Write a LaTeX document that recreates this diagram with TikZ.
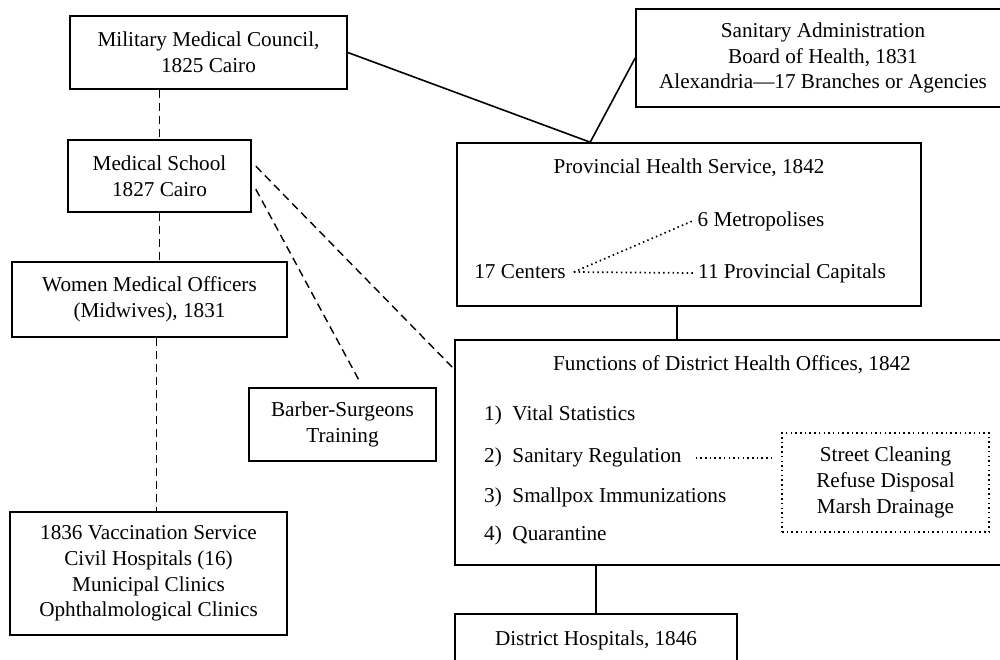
\documentclass[tikz,border=0pt]{standalone}
\usepackage{fontspec}
\setmainfont{Liberation Serif}
\usetikzlibrary{calc}
\begin{document}
\begin{tikzpicture}[x=1pt,y=-1pt,
  box/.style={draw=black, line width=1.6pt, inner sep=0pt, align=center,
    font=\fontsize{21.2}{25.8}\selectfont},
  txt/.style={inner sep=0pt, font=\fontsize{21.2}{25.8}\selectfont},
  dbox/.style={draw=black, line width=1.7pt, dash pattern=on 1.5pt off 3.2pt, inner sep=0pt, align=center,
    font=\fontsize{21.2}{25.8}\selectfont},
  dashline/.style={line width=1.4pt, dash pattern=on 8pt off 5pt},
  dotline/.style={line width=1.7pt, dash pattern=on 1.5pt off 3.2pt},
  solidline/.style={line width=1.6pt}]
\useasboundingbox (0,0) rectangle (1000,659);
\fill[white] (0,0) rectangle (1000,659);
\clip (0,0) rectangle (1000,659);
% left column
\node[box, minimum width=277pt, minimum height=73pt] (mmc) at (208.5,52.5) {Military Medical Council,\\1825 Cairo};
\node[box, minimum width=183pt, minimum height=72pt] (ms) at (159.5,176) {Medical School\\1827 Cairo};
\node[box, minimum width=275pt, minimum height=75pt] (wmo) at (149.5,299.5) {Women Medical Officers\\(Midwives), 1831};
\node[box, minimum width=277pt, minimum height=123pt] (vac) at (148.5,573.5) {1836 Vaccination Service\\Civil Hospitals (16)\\Municipal Clinics\\Ophthalmological Clinics};
\node[box, minimum width=187pt, minimum height=73pt] (barber) at (342.5,424.5) {Barber-Surgeons\\Training};
% right column
\node[box, minimum width=374pt, minimum height=98pt] (san) at (823,58) {Sanitary Administration\\Board of Health, 1831\\Alexandria---17 Branches or Agencies};
\node[box, minimum width=464pt, minimum height=163pt] (phs) at (689,224.5) {};
\node[txt] (phst) at (689,168) {Provincial Health Service, 1842};
\node[txt] (c17) at (520,272) {17 Centers};
\node[txt] (metro) at (761,221) {6 Metropolises};
\node[txt] (cap) at (792,273) {11 Provincial Capitals};
\node[box, minimum width=554pt, minimum height=225pt] (fun) at (732,452.5) {};
\node[txt] (funt) at (732,365) {Functions of District Health Offices, 1842};
\node[txt, anchor=west] (f1) at (484,415) {1)\ \ Vital Statistics};
\node[txt, anchor=west] (f2) at (484,457) {2)\ \ Sanitary Regulation};
\node[txt, anchor=west] (f3) at (484,497) {3)\ \ Smallpox Immunizations};
\node[txt, anchor=west] (f4) at (484,535) {4)\ \ Quarantine};
\node[dbox, minimum width=207pt, minimum height=99pt] (sdb) at (885.5,482.5) {Street Cleaning\\Refuse Disposal\\Marsh Drainage};
\node[box, minimum width=282pt, minimum height=52pt] (dist) at (596,640) {District Hospitals, 1846};
% connectors
\coordinate (j) at ($(phs.north west)+(134,0)$);
\draw[solidline] (mmc.east) -- (j) -- (san.west);
\draw[dashline] (ms.north |- mmc.south) -- (ms.north);
\draw[dashline] (ms.south) -- (ms.south |- wmo.north);
\draw[dashline] ($(wmo.south)+(7,0)$) -- ($(vac.north)+(8,0)$);
\draw[dashline] ($(ms.north east)+(4,27)$) -- ($(fun.north west)+(0,30)$);
\draw[dashline] ($(ms.north east)+(4,50)$) -- ($(barber.north)+(17,-6)$);
\draw[dotline] ($(c17.east)+(8,0)$) -- ($(metro.west)+(-5,0)$);
\draw[dotline] ($(c17.east)+(8,0)$) -- ($(cap.west)+(-5,0)$);
\draw[solidline] ($(phs.south)+(-12,0)$) -- ($(fun.north)+(-55,0)$);
\draw[solidline] (dist.north |- fun.south) -- (dist.north);
\draw[dotline] ($(f2.east)+(14,1)$) -- ($(f2.east -| sdb.west)+(-9,1)$);
\end{tikzpicture}
\end{document}
